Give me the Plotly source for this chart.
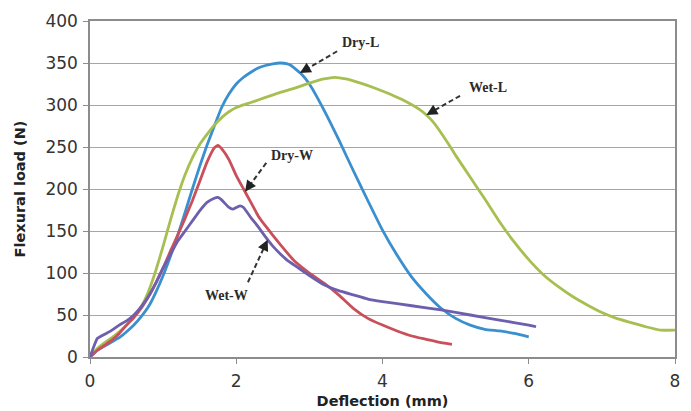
import numpy as np
import plotly.graph_objects as go

# Load-deflection curves from the three-point flexural tests
dry_l_x = [0, 0.1, 0.2, 0.3, 0.4, 0.5, 0.6, 0.7, 0.8, 0.9, 1.0, 1.1, 1.2, 1.3, 1.4, 1.5,
           1.6, 1.7, 1.8, 1.9, 2.0, 2.1, 2.2, 2.3, 2.4, 2.5, 2.6, 2.7, 2.75, 2.9, 3.0,
           3.2, 3.4, 3.6, 3.8, 4.0, 4.2, 4.4, 4.6, 4.8, 5.0, 5.2, 5.4, 5.6, 5.8, 6.0]
dry_l_y = [0, 8, 13, 18, 23, 30, 38, 48, 60, 77, 97, 120, 145, 172, 200, 227,
           252, 275, 297, 313, 325, 333, 339, 344, 347, 349, 350, 349, 347, 336, 325,
           294, 259, 222, 186, 151, 121, 95, 75, 58, 46, 38, 33, 31, 28, 24]

wet_l_x = [0, 0.1, 0.2, 0.3, 0.4, 0.5, 0.6, 0.7, 0.8, 0.9, 1.0, 1.1, 1.2, 1.3, 1.4, 1.5,
           1.6, 1.7, 1.8, 1.9, 2.0, 2.2, 2.4, 2.6, 2.8, 3.0, 3.2, 3.35, 3.5, 3.7, 3.9,
           4.1, 4.3, 4.5, 4.6, 4.7, 4.8, 4.9, 5.0, 5.2, 5.4, 5.6, 5.8, 6.0, 6.2, 6.4,
           6.6, 6.8, 7.0, 7.2, 7.4, 7.6, 7.8, 8.0]
wet_l_y = [0, 10, 17, 23, 30, 38, 48, 60, 78, 103, 132, 163, 192, 217, 237, 253,
           265, 276, 285, 292, 297, 303, 309, 315, 320, 326, 331, 333, 331, 326, 320,
           313, 305, 295, 288, 279, 267, 254, 240, 214, 188, 161, 137, 116, 98, 84,
           72, 62, 53, 46, 41, 36, 32, 32]

dry_w_x = [0, 0.1, 0.2, 0.3, 0.4, 0.5, 0.6, 0.7, 0.8, 0.9, 1.0, 1.1, 1.2, 1.3, 1.4, 1.5,
           1.6, 1.7, 1.75, 1.8, 1.9, 2.0, 2.1, 2.2, 2.3, 2.4, 2.6, 2.8, 3.0, 3.2, 3.4,
           3.6, 3.8, 4.0, 4.2, 4.4, 4.6, 4.8, 4.95]
dry_w_y = [0, 8, 14, 20, 28, 38, 47, 58, 72, 88, 106, 126, 145, 165, 186, 209,
           232, 249, 252, 248, 235, 216, 200, 184, 168, 156, 134, 114, 100, 88, 74,
           58, 46, 38, 31, 25, 21, 17, 15]

wet_w_x = [0, 0.05, 0.1, 0.2, 0.3, 0.4, 0.5, 0.6, 0.7, 0.8, 0.9, 1.0, 1.1, 1.2, 1.3, 1.4,
           1.5, 1.6, 1.7, 1.75, 1.8, 1.9, 1.95, 2.05, 2.1, 2.2, 2.3, 2.4, 2.5, 2.6, 2.7,
           2.8, 3.0, 3.2, 3.4, 3.6, 3.8, 4.0, 4.4, 4.8, 5.2, 5.6, 6.0, 6.1]
wet_w_y = [0, 12, 22, 27, 32, 38, 43, 50, 60, 72, 88, 106, 122, 138, 150, 162,
           174, 184, 189, 190, 187, 178, 176, 180, 178, 166, 155, 143, 132, 123, 115,
           109, 97, 86, 79, 74, 69, 66, 61, 56, 50, 44, 38, 36]

series = [
    ("Dry-L", dry_l_x, dry_l_y, "#3a8fcf"),
    ("Wet-L", wet_l_x, wet_l_y, "#a7bf50"),
    ("Dry-W", dry_w_x, dry_w_y, "#c9505a"),
    ("Wet-W", wet_w_x, wet_w_y, "#6e5fae"),
]

# Label text position, dashed-leader start, and the deflection the arrow points at
labels = {
    "Dry-L": dict(text=(3.70, 374), start=(3.38, 364), tip_x=2.87),
    "Wet-L": dict(text=(5.44, 321), start=(5.06, 311), tip_x=4.60),
    "Dry-W": dict(text=(2.76, 240), start=(2.41, 231), tip_x=2.12),
    "Wet-W": dict(text=(1.86, 73), start=(2.16, 89), tip_x=2.43),
}

x_range = [0, 8]
y_range = [0, 400]
margin = dict(l=90, r=16, t=21, b=54)
W, H = 691, 411
px_per_x = (W - margin["l"] - margin["r"]) / (x_range[1] - x_range[0])
px_per_y = (H - margin["t"] - margin["b"]) / (y_range[1] - y_range[0])

fig = go.Figure()
for name, xs, ys, color in series:
    fig.add_trace(go.Scatter(x=xs, y=ys, mode="lines", name=name,
                             line=dict(color=color, width=2.8, shape="spline",
                                       smoothing=0.4)))

annotations = []
shapes = []
for name, xs, ys, color in series:
    spec = labels[name]
    tx, ty = spec["text"]
    sx, sy = spec["start"]
    tip_x = spec["tip_x"]
    tip_y = float(np.interp(tip_x, xs, ys))
    annotations.append(dict(x=tx, y=ty, xref="x", yref="y", text=f"<b>{name}</b>",
                            showarrow=False,
                            font=dict(family="Liberation Serif", size=14,
                                      color="#2a2a2a")))
    # direction from tip back to the leader start, in screen pixels
    dx = (sx - tip_x) * px_per_x
    dy = -(sy - tip_y) * px_per_y
    length = (dx ** 2 + dy ** 2) ** 0.5
    ux, uy = dx / length, dy / length
    shapes.append(dict(type="line", xref="x", yref="y",
                       x0=sx, y0=sy,
                       x1=tip_x + ux * 6 / px_per_x, y1=tip_y - uy * 6 / px_per_y,
                       line=dict(color="#333333", width=2, dash="5px,3px")))
    annotations.append(dict(x=tip_x, y=tip_y, xref="x", yref="y", text="",
                            showarrow=True, arrowhead=2, arrowsize=1.1,
                            arrowwidth=2, arrowcolor="#222222",
                            ax=ux * 9, ay=uy * 9, standoff=0))

fig.update_layout(
    width=W, height=H, margin=margin,
    paper_bgcolor="white", plot_bgcolor="white",
    showlegend=False,
    annotations=annotations, shapes=shapes,
    font=dict(family="DejaVu Sans", color="#333333"),
)
fig.update_xaxes(range=x_range, dtick=2, showgrid=False, zeroline=False,
                 showline=True, linecolor="#8c8c8c", linewidth=1.5, mirror=True,
                 ticks="outside", ticklen=5, tickcolor="#8c8c8c",
                 ticklabelstandoff=3, automargin=False,
                 tickfont=dict(size=17, color="#333333"),
                 title=dict(text="<b>Deflection (mm)</b>",
                            font=dict(size=14.5, color="#222222"), standoff=6))
fig.update_yaxes(range=y_range, dtick=50, showgrid=True, gridcolor="#a6a6a6",
                 gridwidth=1.3, zeroline=False,
                 showline=True, linecolor="#8c8c8c", linewidth=1.5, mirror=True,
                 ticks="outside", ticklen=5, tickcolor="#8c8c8c",
                 ticklabelstandoff=2, automargin=False,
                 tickfont=dict(size=17, color="#333333"),
                 title=dict(text="<b>Flexural load (N)</b>",
                            font=dict(size=14.5, color="#222222"), standoff=16))

fig.write_html("out.html")
